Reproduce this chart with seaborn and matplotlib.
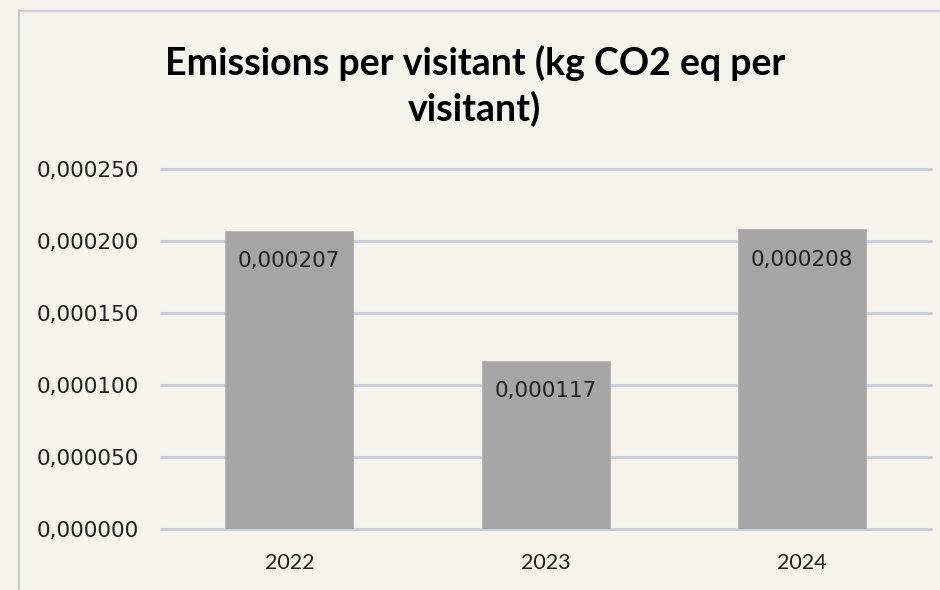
import matplotlib
matplotlib.use("Agg")
import matplotlib.pyplot as plt
import seaborn as sns
import pandas as pd
from matplotlib.lines import Line2D

# Emissions per visitant by year
years = ["2022", "2023", "2024"]
emissions = [0.000207, 0.000117, 0.000208]
y_ticks = [0.0, 0.00005, 0.0001, 0.00015, 0.0002, 0.00025]

BG = "#F4F3EC"
BAR = "#A5A5A5"
GRID = "#C9CDD5"

sns.set_theme(style="white")
plt.rcParams["font.family"] = ["DejaVu Sans"]

df = pd.DataFrame({"year": years, "emissions": emissions})

fig = plt.figure(figsize=(9.4, 5.9), dpi=100, facecolor=BG)
ax = fig.add_axes([161 / 940, 1 - 529 / 590, (930.5 - 161) / 940, (529 - 169) / 590])
ax.set_facecolor(BG)

sns.barplot(data=df, x="year", y="emissions", color=BAR, width=0.5,
            saturation=1, edgecolor="#B4B4B4", linewidth=0.6, ax=ax, zorder=3)

ax.set_xlim(-0.5, 2.5)
ax.set_ylim(0, 0.00025)
ax.set_yticks(y_ticks)
ax.set_yticklabels([f"{v:.6f}".replace(".", ",") for v in y_ticks],
                   fontsize=15.5, color="#222222", family="DejaVu Sans")
ax.set_xticks(range(len(years)))
ax.set_xticklabels(years, fontsize=15.5, color="#222222", family="Lato")
ax.tick_params(axis="y", length=0, pad=16)
ax.tick_params(axis="x", length=0, pad=17)
ax.set_xlabel("")
ax.set_ylabel("")

for s in ax.spines.values():
    s.set_visible(False)

# horizontal gridlines, drawn behind the bars
for v in y_ticks:
    ax.axhline(v, color=GRID, linewidth=2.2, zorder=1, clip_on=False)

# value labels inside the top of each bar
for i, v in enumerate(emissions):
    ax.annotate(f"{v:.6f}".replace(".", ","), xy=(i, v), xytext=(0, -22),
                textcoords="offset points", ha="center", va="center",
                fontsize=15.5, color="#222222", zorder=4)

# title
fig.text(0.505, 0.855, "Emissions per visitant (kg CO2 eq per\nvisitant)",
         ha="center", va="center", multialignment="center",
         fontsize=27, fontweight="bold", color="#000000",
         family=["Lato", "DejaVu Sans"], linespacing=1.32)

# chart frame (top and left edges)
fig.add_artist(Line2D([18.5 / 940, 18.5 / 940], [0, 1 - 10 / 590],
                      transform=fig.transFigure, color=GRID, linewidth=1.5))
fig.add_artist(Line2D([18.5 / 940, 1], [1 - 10.5 / 590, 1 - 10.5 / 590],
                      transform=fig.transFigure, color=GRID, linewidth=1.5))

fig.savefig("out.png", dpi=100, facecolor=BG)
